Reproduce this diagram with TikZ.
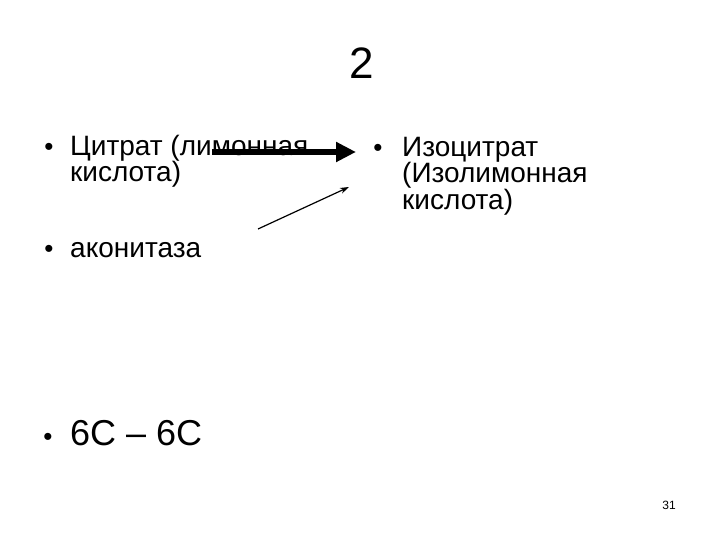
\documentclass[tikz,border=0pt]{standalone}
\usepackage{fontspec}
\setmainfont{Liberation Sans}
\usetikzlibrary{arrows.meta}
\tikzset{
  txt/.style={anchor=base west, inner sep=0pt, font=\fontsize{28}{30}\selectfont},
  bul/.style={anchor=base, inner sep=0pt, font=\fontsize{26}{28}\selectfont},
  big/.style={anchor=base west, inner sep=0pt, font=\fontsize{36}{40}\selectfont},
  thickarrow/.style={line width=6pt, -{Triangle[length=20pt,width=19pt]}},
  thinarrow/.style={line width=1.2pt, -{Stealth[length=9pt,width=6pt]}}
}
\begin{document}
\begin{tikzpicture}[x=1pt,y=-1pt]
\useasboundingbox (0,0) rectangle (720,540);
\node[anchor=base, inner sep=0pt, font=\fontsize{44}{50}\selectfont] (title) at (362,79) {2};
% left item
\node[bul] (b1) at (49,156) {•};
\node[txt] (l1a) at (70,156) {Цитрат (лимонная};
\node[txt] (l1b) at (70,182) {кислота)};
% right item
\node[bul] (b2) at (378,157) {•};
\node[txt] (r1a) at (402,157) {Изоцитрат};
\node[txt] (r1b) at (402,183) {(Изолимонная};
\node[txt] (r1c) at (402,210) {кислота)};
% aconitase
\node[bul] (b3) at (49,257) {•};
\node[txt] (ac) at (70,257) {аконитаза};
% 6C - 6C
\node[bul] (b4) at (48,445) {•};
\node[big] (cc) at (70,445) {6C – 6C};
% page number
\node[anchor=base, inner sep=0pt, font=\fontsize{12}{14}\selectfont] (pn) at (669,509) {31};
% arrows
\coordinate (a1s) at (212,152);
\coordinate (a1e) at (356,152);
\coordinate (a2s) at (258,229);
\coordinate (a2e) at (349,187);
\draw[thickarrow] (a1s) -- (a1e);
\draw[thinarrow] (a2s) -- (a2e);
\end{tikzpicture}
\end{document}
